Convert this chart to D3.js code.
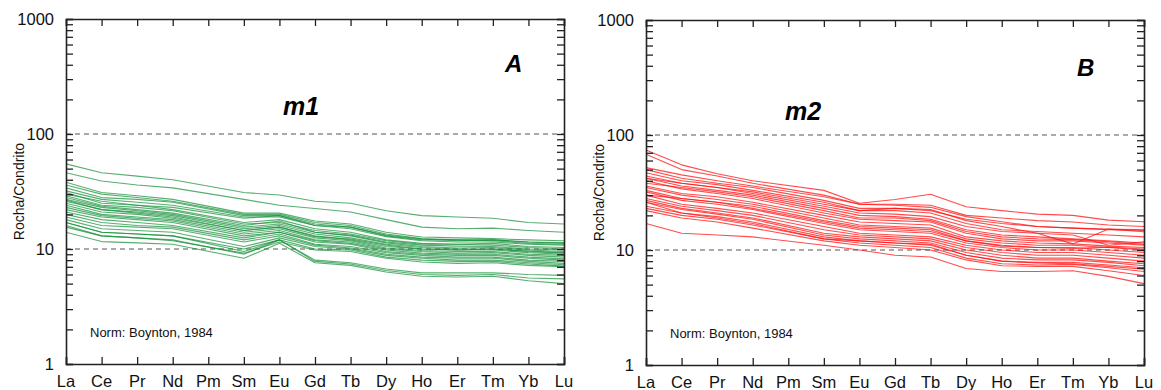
<!DOCTYPE html>
<html><head><meta charset="utf-8">
<script src="https://cdn.jsdelivr.net/npm/d3@7"></script>
<style>
html,body{margin:0;padding:0;background:#fff;}
svg{display:block;font-family:"Liberation Sans",Arial,sans-serif;}
</style></head>
<body>
<svg id="chart" width="1161" height="390"></svg>
<script>
// ---------- DATA ----------
const elements = ["La","Ce","Pr","Nd","Pm","Sm","Eu","Gd","Tb","Dy","Ho","Er","Tm","Yb","Lu"];
const yTickValues = [1, 10, 100, 1000];
const refLines = [10, 100];
const yAxisTitle = "Rocha/Condrito";
const normText = "Norm: Boynton, 1984";
const panelNames = ["m1", "m2"];
const panelLetters = ["A", "B"];

// m1 (panel A) chondrite-normalised REE patterns (Pm not analysed)
const seriesM1 = [
  [55, 46, 43, 40, null, 31, 29.5, 26, 25, 21.5, 19.5, 19, 18.5, 17, 16.5],
  [46, 39, 36, 34, null, 27, 24, 22.5, 21, 18, 15.5, 15, 15.2, 14.5, 14],
  [38, 31, 29, 27, null, 20.5, 20.5, 17.5, 16.5, 14, 12.7, 12.5, 12.3, 12, 11.8],
  [36, 30, 28, 26, null, 20, 20, 17, 16, 13.5, 12.3, 12, 12, 11.5, 11.2],
  [34, 28, 27, 25.5, null, 19.5, 19.5, 16.5, 15.5, 13, 12, 12, 11.8, 11.2, 11],
  [32, 27, 25.5, 24, null, 19, 19, 16, 15, 12.8, 11.8, 11.5, 11.5, 11, 10.8],
  [30, 26, 24, 22, null, 17, 18, 15, 14, 12, 11.2, 11, 11.2, 10.5, 10.3],
  [29, 24, 23, 21.5, null, 16.5, 17, 14.5, 13.5, 11.8, 11, 11, 10.8, 10.3, 10],
  [28, 23.5, 22, 20.5, null, 16, 17.5, 14, 13.2, 11.5, 10.8, 10.6, 10.5, 10, 9.8],
  [27, 23, 21.5, 20, null, 15.5, 16.5, 14, 13, 11.3, 10.5, 10.2, 10.3, 9.8, 9.5],
  [26, 22, 21, 19.5, null, 15, 16, 13.5, 12.5, 11, 10.3, 10, 10, 9.6, 9.3],
  [25, 21, 20, 18.5, null, 14.5, 15.5, 13, 12, 10.5, 10, 9.8, 9.8, 9.3, 9],
  [24, 20, 19, 18, null, 14, 15, 12.5, 11.8, 10.2, 9.7, 9.5, 9.5, 9, 8.8],
  [23, 19.5, 18.5, 17.5, null, 13.5, 14.5, 12, 11.5, 10, 9.5, 9.2, 9.3, 8.8, 8.5],
  [22, 19, 18, 17, null, 13, 14, 11.8, 11.2, 9.8, 9.2, 9, 9, 8.5, 8.2],
  [21, 18, 17, 16, null, 12.5, 14, 11.5, 11, 9.5, 9, 8.8, 8.8, 8.3, 8],
  [20, 17, 16, 15.5, null, 12, 13.5, 11, 10.5, 9.3, 8.8, 8.5, 8.5, 8, 7.8],
  [19, 16, 15.5, 15, null, 11.5, 13, 10.8, 10.2, 9, 8.5, 8.3, 8.3, 7.8, 7.5],
  [18, 15, 14.5, 14, null, 10.5, 12.5, 10.5, 10, 8.8, 8.3, 8, 8, 7.6, 7.3],
  [17, 14, 13.5, 13, null, 10, 12, 10, 9.8, 8.5, 8, 7.8, 7.8, 7.4, 7.1],
  [15.5, 13, 12.5, 11.8, null, 9.2, 11.5, 9.8, 9.5, 8.3, 7.7, 7.5, 7.6, 7.2, 7],
  [31, 25, 24, 23, null, 18.5, 19.5, 16, 15.5, 13.2, 12.2, 11.8, 12, 11.5, 11.4],
  [26.5, 22, 20.5, 19, null, 14.5, 15.5, 12.8, 12.2, 10.8, 10, 9.8, 10, 9.5, 9.2],
  [17, 14, 13.5, 13, null, 9.5, 12, 8, 7.6, 6.7, 6.2, 6.2, 6.2, 6, 5.9],
  [16, 13, 12.5, 12, null, 9, 12, 7.8, 7.4, 6.5, 6, 5.9, 6, 5.6, 5.5],
  [14, 11.6, 11.3, 11, null, 8.3, 11.2, 7.6, 7.2, 6.3, 5.8, 5.7, 5.8, 5.3, 5.0]
];

// m2 (panel B)
const seriesM2 = [
  [74, 55, 46, 40, null, 33, 25.5, 27.5, 30.5, 23.8, 22, 20.5, 20, 18.2, 17.6],
  [68, 50, 44, 38, null, 30, 25, 25, 24.5, 20, 19, 18, 17.5, 16.5, 16],
  [52, 45, 40, 36, null, 29, 25, 24.5, 23.5, 19.5, 17.6, 16, 15.5, 15.2, 15],
  [50, 42, 38, 35, null, 27, 23, 23, 22.5, 18, 16, 14, 11.3, 15.2, 14.4],
  [47, 40, 37, 33, null, 26, 22, 22, 21, 17, 15, 14.5, 14, 13.5, 13],
  [44, 38, 35, 31, null, 24, 21, 20.5, 19.5, 16, 14.5, 14, 13.5, 11, 11.8],
  [42, 36, 33, 30, null, 23, 20, 19.5, 18.5, 15, 13.5, 13, 12.5, 12, 11.5],
  [40, 34, 31, 28, null, 21, 18.5, 18, 17.5, 14, 12.5, 12, 12, 11.5, 11],
  [38, 35, 32, 29, null, 22, 19, 19, 18, 14.5, 13, 12.5, 12.3, 11.8, 11.2],
  [36, 31, 29, 26, null, 20, 17.5, 17, 16.5, 13, 12, 11.5, 11.3, 10.8, 10.5],
  [35, 30, 27.5, 25, null, 19, 16.5, 16, 15.5, 12.5, 11.5, 11, 11, 10.5, 10],
  [33, 28, 26, 24, null, 18, 16, 15.5, 15, 12, 11, 10.5, 10.5, 10, 9.5],
  [32, 27, 25, 22.5, null, 17, 15, 14.5, 14, 11.5, 10.5, 10, 10, 9.5, 9],
  [30, 25, 23, 21, null, 16, 14, 13.5, 13, 11, 10, 9.5, 9.5, 9, 8.5],
  [28, 24, 22, 20, null, 15, 13.5, 13, 12.5, 10.5, 9.5, 9, 9, 8.5, 8],
  [27, 23, 21, 19, null, 14, 13, 12.5, 12, 10, 9, 8.5, 8.5, 8, 7.6],
  [26, 22.5, 20.5, 18.5, null, 13.5, 12.5, 12, 11.5, 9.5, 8.5, 8.2, 8.2, 7.8, 7.3],
  [24, 21, 19.5, 17.5, null, 13, 12, 11.5, 11, 9, 8, 7.8, 7.8, 7.4, 7],
  [23, 20, 18.5, 16.5, null, 12.5, 11.5, 11, 10.5, 8.5, 7.6, 7.4, 7.5, 7, 6.5],
  [22, 19, 17.5, 15.5, null, 12, 11, 10.5, 10, 8.2, 7.3, 7.2, 7.2, 6.6, 6],
  [17, 14, 13.5, 13, null, 11, 10, 9, 8.7, 6.9, 6.5, 6.5, 6.6, 5.9, 5.1],
  [42, 38, 35, 32, null, 25, 22, 23, 22, 18.5, 17, 16, 15.5, 15, 14.8],
  [30, 28, 26, 23, null, 17.5, 15.5, 15, 14.5, 12, 10.8, 10.5, 10.3, 10.6, 10.2],
  [26, 21, 19, 17, null, 12.5, 12, 11.5, 11.2, 9, 8, 7.7, 7.6, 7.2, 6.8]
];

// ---------- DRAW ----------
const svg = d3.select("#chart");
const panels = [
  {x0: 66, x1: 564, y0: 19, y1: 364, data: seriesM1, color: "#159039", opacity: 0.72,
   name: panelNames[0], nameX: 283, nameY: 115, letter: panelLetters[0], letX: 505, letY: 72,
   normX: 90, normY: 337},
  {x0: 646, x1: 1144, y0: 20, y1: 365, data: seriesM2, color: "#ff1010", opacity: 0.75,
   name: panelNames[1], nameX: 785, nameY: 120, letter: panelLetters[1], letX: 1077, letY: 76,
   normX: 670, normY: 338}
];

panels.forEach(p => {
  const g = svg.append("g");
  const x = d3.scalePoint().domain(elements).range([p.x0, p.x1]).padding(0);
  const y = d3.scaleLog().domain([1, 1000]).range([p.y1, p.y0]);

  // reference dashed lines
  g.selectAll(".ref").data(refLines).join("line")
    .attr("x1", p.x0).attr("x2", p.x1)
    .attr("y1", d => y(d)).attr("y2", d => y(d))
    .attr("stroke", "#555").attr("stroke-width", 1).attr("stroke-dasharray", "5,4");

  // data lines
  const line = d3.line().x(d => x(d.e)).y(d => y(d.v));
  g.append("g").selectAll("path").data(p.data).join("path")
    .attr("d", s => line(s.map((v, i) => ({e: elements[i], v})).filter(d => d.v != null)))
    .attr("fill", "none").attr("stroke", p.color)
    .attr("stroke-width", 1.1).attr("stroke-opacity", p.opacity)
    .attr("stroke-linejoin", "round");

  // axes with inward ticks
  const tickVals = [];
  [1, 10, 100].forEach(dec => { for (let k = 1; k <= 10; k++) tickVals.push(dec * k); });
  const uniq = Array.from(new Set(tickVals));

  const axL = d3.axisLeft(y).tickValues(uniq).tickSize(-7).tickFormat("");
  const axR = d3.axisRight(y).tickValues(uniq).tickSize(-7).tickFormat("");
  const axB = d3.axisBottom(x).tickSize(-7).tickFormat("");
  const axT = d3.axisTop(x).tickSize(-7).tickFormat("");

  [[axL, `translate(${p.x0},0)`], [axR, `translate(${p.x1},0)`],
   [axB, `translate(0,${p.y1})`], [axT, `translate(0,${p.y0})`]].forEach(([ax, tr]) => {
    const a = g.append("g").attr("transform", tr).call(ax);
    a.select(".domain").attr("stroke", "#222").attr("stroke-width", 1.6);
    a.selectAll(".tick line").attr("stroke", "#222").attr("stroke-width", 1.3);
  });

  // y tick labels
  g.selectAll(".ylab").data(yTickValues).join("text")
    .attr("x", p.x0 - 12).attr("y", d => y(d)).attr("dy", "0.36em")
    .attr("text-anchor", "end").attr("font-size", 16.5).attr("fill", "#111")
    .text(d => d);

  // x labels
  g.selectAll(".xlab").data(elements).join("text")
    .attr("x", d => x(d)).attr("y", p.y1 + 23)
    .attr("text-anchor", "middle").attr("font-size", 16.5).attr("fill", "#111")
    .text(d => d);

  // y axis title
  g.append("text")
    .attr("transform", `translate(${p.x0 - 47},${(p.y0 + p.y1) / 2}) rotate(-90)`)
    .attr("text-anchor", "middle").attr("dy", "0.35em")
    .attr("font-size", 14).attr("fill", "#111").text(yAxisTitle);

  // labels
  g.append("text").attr("x", p.nameX).attr("y", p.nameY)
    .attr("font-size", 25).attr("font-weight", "bold").attr("font-style", "italic")
    .attr("fill", "#000").text(p.name);
  g.append("text").attr("x", p.letX).attr("y", p.letY)
    .attr("font-size", 24).attr("font-weight", "bold").attr("font-style", "italic")
    .attr("fill", "#000").text(p.letter);
  g.append("text").attr("x", p.normX).attr("y", p.normY)
    .attr("font-size", 13).attr("fill", "#111").text(normText);
});
</script>
</body></html>
